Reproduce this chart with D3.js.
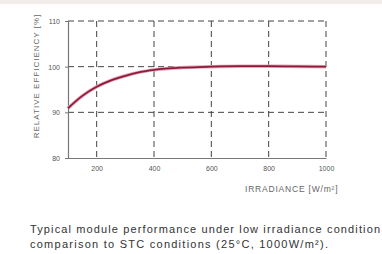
<!DOCTYPE html>
<html>
<head>
<meta charset="utf-8">
<script src="https://cdn.jsdelivr.net/npm/d3@7"></script>
<style>
  body { margin: 0; background: #fff; overflow: hidden; }
  svg { display: block; font-family: "Liberation Sans", Arial, sans-serif; }
</style>
</head>
<body>
<svg id="chart" width="382" height="254"></svg>
<script>
// irradiance in W/m2 and relative efficiency in %
const irradiance = [100, 150, 200, 250, 300, 350, 400, 500, 600, 700, 800, 900, 1000];
const efficiency = [90.9, 93.6, 95.6, 97.0, 98.0, 98.8, 99.3, 99.8, 100.0, 100.1, 100.1, 100.05, 100.0];
const xTicks = [200, 400, 600, 800, 1000];
const yTicks = [80, 90, 100, 110];
// caption as visible in the picture (first line runs off the right edge there)
const captionLines = [
  "Typical module performance under low irradiance condition",
  "comparison to STC conditions (25\u00b0C, 1000W/m\u00b2)."
];
const captionWidths = [350, 298];

const svg = d3.select("#chart");

// light band at the top of the image
svg.append("rect").attr("x", 0).attr("y", 0).attr("width", 382).attr("height", 4).attr("fill", "#f2ecea");

const x = d3.scaleLinear().domain([100, 1000]).range([68, 326]);
const y = d3.scaleLinear().domain([80, 110]).range([158, 21]);

// dashed grid
svg.append("g").selectAll("line").data(xTicks).enter().append("line")
  .attr("x1", d => x(d)).attr("x2", d => x(d))
  .attr("y1", y(110)).attr("y2", y(80))
  .attr("stroke", "#444").attr("stroke-width", 1).attr("stroke-dasharray", "6,4");
svg.append("g").selectAll("line").data(yTicks.filter(d => d > 80)).enter().append("line")
  .attr("x1", x(100)).attr("x2", x(1000))
  .attr("y1", d => y(d)).attr("y2", d => y(d))
  .attr("stroke", "#444").attr("stroke-width", 1).attr("stroke-dasharray", "6,4");

// axes
const xAxis = svg.append("g").attr("transform", "translate(0," + y(80) + ")")
  .call(d3.axisBottom(x).tickValues(xTicks).tickFormat(d3.format("d")).tickSize(0).tickPadding(8));
const yAxis = svg.append("g").attr("transform", "translate(" + x(100) + ",0)")
  .call(d3.axisLeft(y).tickValues(yTicks).tickSize(3).tickPadding(5));
[xAxis, yAxis].forEach(a => {
  a.select(".domain").attr("stroke", "#777").attr("stroke-width", 1.2);
  a.selectAll(".tick line").attr("stroke", "#777");
  a.selectAll("text").attr("fill", "#555").style("font-size", "7px");
});
yAxis.selectAll(".tick text").attr("dy", "0.35em");

// curve
const line = d3.line().x((d, i) => x(irradiance[i])).y(d => y(d)).curve(d3.curveMonotoneX);
svg.append("path").datum(efficiency)
  .attr("d", line).attr("fill", "none")
  .attr("stroke", "#e8a7b8").attr("stroke-width", 3.5);
svg.append("path").datum(efficiency)
  .attr("d", line).attr("fill", "none")
  .attr("stroke", "#8c1b3b").attr("stroke-width", 1.8);

// axis titles
svg.append("text").attr("x", 245).attr("y", 192)
  .attr("fill", "#666").style("font-size", "8.5px").style("letter-spacing", "0.8px")
  .text("IRRADIANCE [W/m\u00b2]");
svg.append("text").attr("transform", "translate(39,76) rotate(-90)")
  .attr("text-anchor", "middle")
  .attr("fill", "#666").style("font-size", "8px").style("letter-spacing", "1px")
  .text("RELATIVE EFFICIENCY [%]");

// caption
svg.append("g").selectAll("text").data(captionLines).enter().append("text")
  .attr("x", 30).attr("y", (d, i) => 233 + i * 15)
  .attr("textLength", (d, i) => captionWidths[i]).attr("lengthAdjust", "spacing")
  .attr("fill", "#333").style("font-size", "11px")
  .text(d => d);
</script>
</body>
</html>
